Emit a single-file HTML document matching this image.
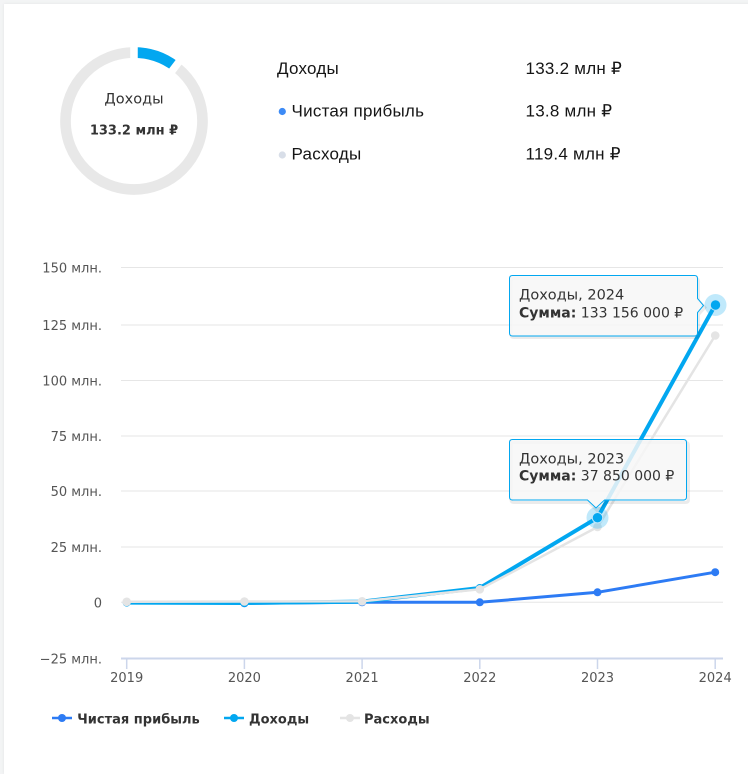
<!DOCTYPE html>
<html><head><meta charset="utf-8">
<style>
html,body{margin:0;padding:0;}
body{width:748px;height:756px;background:#f3f4f5;position:relative;overflow:hidden;}
.card{position:absolute;left:4px;top:4px;width:760px;height:770px;background:#fff;box-shadow:0 0 3px rgba(0,0,0,0.07);}
svg{position:absolute;left:0;top:0;}
.dj{font-family:"DejaVu Sans",Verdana,sans-serif;}
.ls{font-family:"Liberation Sans",Arial,sans-serif;}
</style></head>
<body>
<div class="card"></div>
<svg width="748" height="756" viewBox="0 0 748 756" xmlns="http://www.w3.org/2000/svg">
  <!-- Donut -->
  <circle cx="134" cy="121" r="68.5" fill="none" stroke="#e8e8e8" stroke-width="10.7"/>
  <path d="M134 52.5 A68.5 68.5 0 0 1 175.5 66.5" fill="none" stroke="#02a7f0" stroke-width="10.7"/>
  <line x1="134" y1="121" x2="134" y2="40" stroke="#fff" stroke-width="7.5"/>
  <line x1="134" y1="121" x2="183" y2="56.5" stroke="#fff" stroke-width="7.5"/>
  <circle cx="134" cy="121" r="62.5" fill="#fff"/>
  <text x="134" y="103.3" text-anchor="middle" class="dj" font-size="14.5" fill="#333">Доходы</text>
  <text x="134" y="134.3" text-anchor="middle" class="dj" font-size="13" font-weight="bold" fill="#333">133.2 млн ₽</text>

  <!-- Right list -->
  <g class="ls" font-size="17" fill="#151515" letter-spacing="0.25">
  <text x="277" y="74">Доходы</text>
  <text x="525.5" y="74">133.2 млн ₽</text>
  <text x="291.5" y="116.3">Чистая прибыль</text>
  <text x="525.5" y="116.3">13.8 млн ₽</text>
  <text x="291.5" y="159.3">Расходы</text>
  <text x="525.5" y="159.3">119.4 млн ₽</text>
  </g>
  <circle cx="282.3" cy="111.5" r="3.6" fill="#3d8bf6"/>
  <circle cx="282.3" cy="155" r="3.6" fill="#d8dee8"/>

  <!-- Grid -->
  <g stroke="#e6e6e6" stroke-width="1">
    <line x1="121" y1="267.5" x2="723" y2="267.5"/>
    <line x1="121" y1="325" x2="723" y2="325"/>
    <line x1="121" y1="380.5" x2="723" y2="380.5"/>
    <line x1="121" y1="436" x2="723" y2="436"/>
    <line x1="121" y1="491" x2="723" y2="491"/>
    <line x1="121" y1="547" x2="723" y2="547"/>
    <line x1="121" y1="602.3" x2="723" y2="602.3"/>
  </g>
  <line x1="121" y1="658.5" x2="723" y2="658.5" stroke="#ccd6eb" stroke-width="2"/>
  <g stroke="#ccd6eb" stroke-width="1.5">
    <line x1="126.7" y1="658" x2="126.7" y2="669"/>
    <line x1="244.4" y1="658" x2="244.4" y2="669"/>
    <line x1="362.1" y1="658" x2="362.1" y2="669"/>
    <line x1="479.8" y1="658" x2="479.8" y2="669"/>
    <line x1="597.5" y1="658" x2="597.5" y2="669"/>
    <line x1="715.2" y1="658" x2="715.2" y2="669"/>
  </g>

  <!-- Y labels -->
  <g class="dj" font-size="13" fill="#555" text-anchor="end">
    <text x="102" y="272.5">150 млн.</text>
    <text x="102" y="330">125 млн.</text>
    <text x="102" y="385.5">100 млн.</text>
    <text x="102" y="441">75 млн.</text>
    <text x="102" y="496">50 млн.</text>
    <text x="102" y="552">25 млн.</text>
    <text x="102" y="607.3">0</text>
    <text x="102" y="663.5">−25 млн.</text>
  </g>
  <!-- X labels -->
  <g class="dj" font-size="13" fill="#555" text-anchor="middle">
    <text x="126.7" y="682">2019</text>
    <text x="244.4" y="682">2020</text>
    <text x="362.1" y="682">2021</text>
    <text x="479.8" y="682">2022</text>
    <text x="597.5" y="682">2023</text>
    <text x="715.2" y="682">2024</text>
  </g>

  <!-- Series: Чистая прибыль -->
  <polyline points="126.7,602.3 244.4,603.3 362.1,602.3 479.8,602.3 597.5,592.3 715.2,572.2" fill="none" stroke="#2d7bf4" stroke-width="3" stroke-linejoin="round"/>
  <g fill="#2d7bf4">
    <circle cx="126.7" cy="602.3" r="4"/>
    <circle cx="244.4" cy="603.3" r="4"/>
    <circle cx="362.1" cy="602.3" r="4"/>
    <circle cx="479.8" cy="602.3" r="4"/>
    <circle cx="597.5" cy="592.3" r="4"/>
    <circle cx="715.2" cy="572.2" r="4"/>
  </g>

  <!-- Series: Доходы -->
  <polyline points="126.7,602.6 244.4,603 362.1,601.6 479.8,588 597.5,517.7 715.2,305" fill="none" stroke="#02a7f0" stroke-width="4" stroke-linejoin="round"/>
  <g fill="#02a7f0">
    <circle cx="126.7" cy="602.6" r="4"/>
    <circle cx="244.4" cy="603" r="4"/>
    <circle cx="362.1" cy="601.6" r="4"/>
    <circle cx="479.8" cy="588" r="4"/>
  </g>

  <!-- Series: Расходы -->
  <polyline points="126.7,601.8 244.4,601.5 362.1,601.3 479.8,589.3 597.5,527 715.2,335.5" fill="none" stroke="#e4e4e4" stroke-width="2.5" stroke-linejoin="round"/>
  <g fill="#e4e4e4">
    <circle cx="126.7" cy="601.8" r="4.3"/>
    <circle cx="244.4" cy="601.5" r="4.3"/>
    <circle cx="362.1" cy="601.3" r="4.3"/>
    <circle cx="479.8" cy="589.3" r="4.3"/>
    <circle cx="597.5" cy="527" r="4.3"/>
    <circle cx="715.2" cy="335.5" r="4.3"/>
  </g>

  <!-- Hover halos & markers -->
  <circle cx="597.5" cy="517.7" r="11" fill="rgba(2,167,240,0.25)"/>
  <circle cx="597.5" cy="517.7" r="5.2" fill="#02a7f0" stroke="#bfe7fb" stroke-width="1"/>
  <circle cx="715.5" cy="305" r="11" fill="rgba(2,167,240,0.25)"/>
  <circle cx="715.5" cy="305" r="5.2" fill="#02a7f0" stroke="#bfe7fb" stroke-width="1"/>

  <!-- Tooltip 2024 -->
  <path d="M513 277 H694.5 Q697.5 277 697.5 280 V299 L704 306 L697.5 313 V333 Q697.5 336 694.5 336 H513 Q510 336 510 333 V280 Q510 277 513 277 Z" fill="none" stroke="rgba(0,0,0,0.08)" stroke-width="3" transform="translate(1,1.5)"/>
  <path d="M512.5 275.5 H694.5 Q697.5 275.5 697.5 278.5 V298.5 L703.5 305.5 L697.5 312.5 V333 Q697.5 336 694.5 336 H512.5 Q509.5 336 509.5 333 V278.5 Q509.5 275.5 512.5 275.5 Z" fill="rgba(247,247,247,0.88)" stroke="#02a7f0" stroke-width="1"/>
  <text x="519" y="299.3" class="dj" font-size="14.5" fill="#333">Доходы, 2024</text>
  <text x="519" y="317.3" class="dj" font-size="14" fill="#333"><tspan font-weight="bold">Сумма:</tspan> 133 156 000 ₽</text>

  <!-- Tooltip 2023 -->
  <path d="M513 441 H684.5 Q687.5 441 687.5 444 V498 Q687.5 501 684.5 501 H605 L596 509 L588 501 H513 Q510 501 510 498 V444 Q510 441 513 441 Z" fill="none" stroke="rgba(0,0,0,0.08)" stroke-width="3" transform="translate(1,1.5)"/>
  <path d="M512.5 439.5 H683.5 Q686.5 439.5 686.5 442.5 V497 Q686.5 500 683.5 500 H604.5 L596 508 L587.5 500 H512.5 Q509.5 500 509.5 497 V442.5 Q509.5 439.5 512.5 439.5 Z" fill="rgba(247,247,247,0.85)" stroke="#02a7f0" stroke-width="1"/>
  <text x="519" y="463.3" class="dj" font-size="14.5" fill="#333">Доходы, 2023</text>
  <text x="519" y="480.7" class="dj" font-size="14" fill="#333"><tspan font-weight="bold">Сумма:</tspan> 37 850 000 ₽</text>

  <!-- Legend -->
  <line x1="52" y1="718" x2="72" y2="718" stroke="#2d7bf4" stroke-width="2.5"/>
  <circle cx="62" cy="718" r="4" fill="#2d7bf4"/>
  <text x="77.3" y="723.3" class="dj" font-size="13" font-weight="bold" fill="#333">Чистая прибыль</text>
  <line x1="224" y1="718" x2="244" y2="718" stroke="#02a7f0" stroke-width="2.5"/>
  <circle cx="234" cy="718" r="4" fill="#02a7f0"/>
  <text x="249" y="723.3" class="dj" font-size="13" font-weight="bold" fill="#333">Доходы</text>
  <line x1="340" y1="718" x2="360" y2="718" stroke="#e4e4e4" stroke-width="2.5"/>
  <circle cx="350" cy="718" r="4" fill="#e4e4e4"/>
  <text x="364" y="723.3" class="dj" font-size="13" font-weight="bold" fill="#333">Расходы</text>
</svg>
</body></html>
